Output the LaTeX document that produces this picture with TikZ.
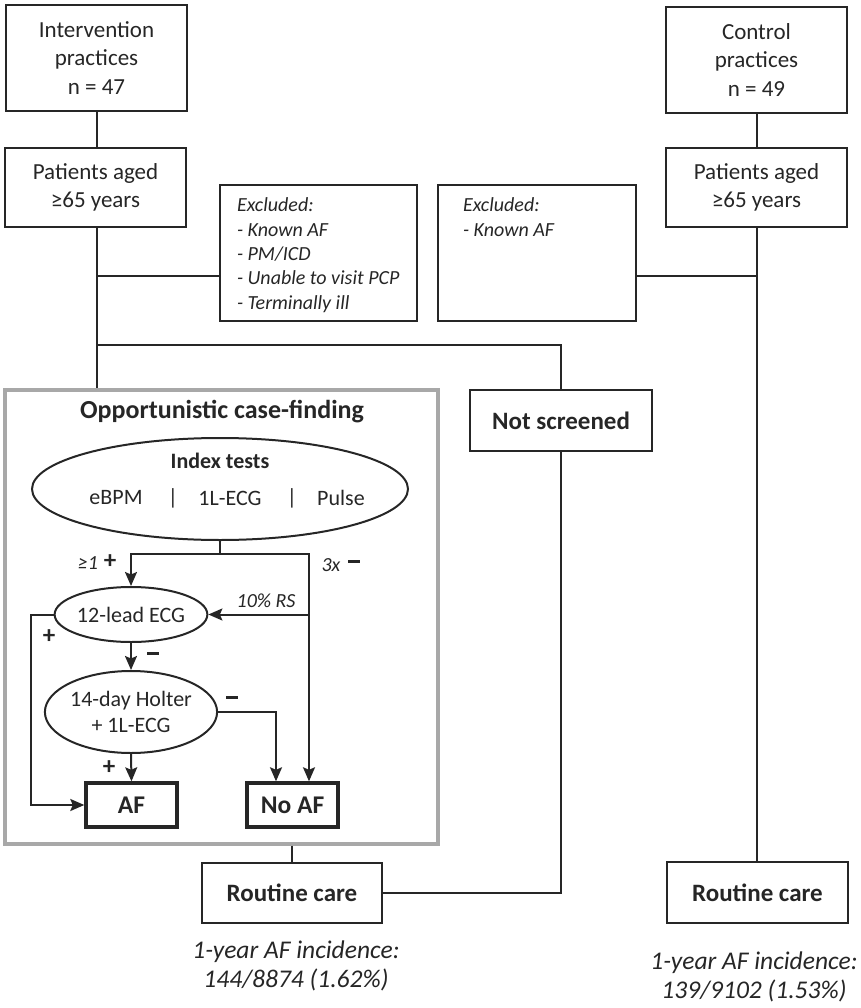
\documentclass[tikz,border=0pt]{standalone}
\usepackage{fontspec}
\setmainfont{Carlito}
\usetikzlibrary{shapes.geometric,arrows.meta}
\definecolor{ink}{HTML}{262626}
\definecolor{framegray}{HTML}{A8A8A8}
\newcommand{\minussign}{\rule[0.28em]{12pt}{2.8pt}}
\begin{document}
\begin{tikzpicture}[x=1pt,y=-1pt,
  line width=2pt, draw=ink, text=ink,
  box/.style={draw=ink, line width=2pt, rectangle, inner sep=2pt, align=center,
    font=\fontsize{23}{28.7}\selectfont},
  boldbox/.style={box, font=\fontsize{25}{30}\selectfont\bfseries},
  thickbox/.style={box, line width=3.4pt, font=\fontsize{25.5}{30}\selectfont\bfseries},
  oval/.style={draw=ink, line width=2pt, ellipse, inner sep=0pt, align=center,
    font=\fontsize{22}{26}\selectfont},
  extext/.style={inner sep=0pt, align=left, anchor=north west,
    font=\fontsize{20}{24.3}\selectfont\itshape},
  lab/.style={inner sep=0pt, font=\fontsize{20}{22}\selectfont\itshape},
  sign/.style={inner sep=0pt, font=\fontsize{25}{26}\selectfont\bfseries},
  arr/.style={-{Stealth[length=14pt,width=12pt,inset=2.5pt]}},
  inc/.style={inner sep=0pt, align=center, font=\fontsize{25.5}{29}\selectfont\itshape}
]
\useasboundingbox (0,0) rectangle (860,1008);

% top row
\node[box, minimum width=181, minimum height=106] (intv) at (96.5,58) {Intervention\\practices\\n = 47};
\node[box, minimum width=181, minimum height=79] (patL) at (95.5,187.5) {Patients aged\\≥65 years};
\node[box, minimum width=181, minimum height=106] (ctrl) at (756.5,60) {Control\\practices\\n = 49};
\node[box, minimum width=181, minimum height=79] (patR) at (756.5,187.5) {Patients aged\\≥65 years};

% exclusion boxes
\node[box, minimum width=197, minimum height=136] (exclL) at (318.5,253) {};
\node[extext] (exclLt) at (236,197) {Excluded:\\- Known AF\\- PM/ICD\\- Unable to visit PCP\\- Terminally ill};
\node[box, minimum width=198, minimum height=136] (exclR) at (537,253) {};
\node[extext] (exclRt) at (462,197) {Excluded:\\- Known AF};

% case-finding frame
\node[draw=framegray, line width=3.4pt, rectangle, minimum width=433, minimum height=454, inner sep=0pt] (frame) at (221.5,617) {};
\node[inner sep=0pt, font=\fontsize{26}{30}\selectfont\bfseries] (title) at (222,412) {Opportunistic case-finding};

% index tests
\node[oval, minimum width=376, minimum height=102] (idx) at (220,489) {};
\node[inner sep=0pt, font=\fontsize{22}{26}\selectfont\bfseries] (idxt) at (220,461) {Index tests};
\begin{scope}[every node/.style={inner sep=0pt, font=\fontsize{22}{26}\selectfont}]
\node (t1) at (116,498) {eBPM};
\node (s1) at (173,498) {|};
\node (t2) at (230,498) {1L-ECG};
\node (s2) at (292,498) {|};
\node (t3) at (341,498) {Pulse};
\end{scope}

\node[oval, minimum width=150, minimum height=55] (ecg) at (131,614.5) {12-lead ECG};
\node[oval, minimum width=162, minimum height=82] (holt) at (131,712) {14-day Holter\\+ 1L-ECG};
\node[thickbox, minimum width=91, minimum height=44] (af) at (131.5,805) {AF};
\node[thickbox, minimum width=91, minimum height=44] (noaf) at (292.5,805) {No AF};

% right column / bottom
\node[boldbox, minimum width=182, minimum height=61] (nots) at (561,420.5) {Not screened};
\node[boldbox, minimum width=180, minimum height=60] (rcL) at (292,893) {Routine care};
\node[boldbox, minimum width=181, minimum height=61] (rcR) at (757.5,892.5) {Routine care};

\node[inc] (incL) at (296,966) {1-year AF incidence:\\144/8874 (1.62\%)};
\node[inc] (incR) at (754,977) {1-year AF incidence:\\139/9102 (1.53\%)};

% coordinates
\coordinate (jL) at (97,276);
\coordinate (jL2) at (97,345);
\coordinate (jR) at (757,276);
\coordinate (sp) at (220,554);
\coordinate (rs) at (309,614.5);

% connectors: top
\draw (intv.south) -- (intv.south |- patL.north);
\draw (patL.south -| jL) -- (jL |- frame.north);
\draw (jL) -- (jL -| exclL.west);
\draw (jL2) -| (nots.north);
\draw (ctrl.south) -- (ctrl.south |- patR.north);
\draw (patR.south -| jR) -- (jR |- rcR.north);
\draw (jR) -- (jR -| exclR.east);
\draw (rcL.north |- frame.south) -- (rcL.north);
\draw (nots.south) |- (rcL.east);

% inner flow
\draw (idx.south) -- (sp);
\draw[arr] (sp) -| (ecg.north);
\draw[arr] (sp) -| ([xshift=16.5pt]noaf.north);
\draw[arr] (rs) -- (ecg.east);
\draw[arr] (ecg.west) -- ++(-23,0) |- (af.west);
\draw[arr] (ecg.south) -- (holt.north);
\draw[arr] (holt.east) -| ([xshift=-16.5pt]noaf.north);
\draw[arr] (holt.south) -- (af.north);

% labels
\node[lab] (l1) at (88,563) {≥1};
\node[sign] (p1) at (110,562) {+};
\node[lab] (l2) at (331,565) {3x};
\node[sign] (m1) at (354,565) {\minussign};
\node[lab] (l3) at (266,601) {10\% RS};
\node[sign] (p2) at (49,637) {+};
\node[sign] (m2) at (153,657) {\minussign};
\node[sign] (m3) at (232,701) {\minussign};
\node[sign] (p3) at (109,768) {+};
\end{tikzpicture}
\end{document}
